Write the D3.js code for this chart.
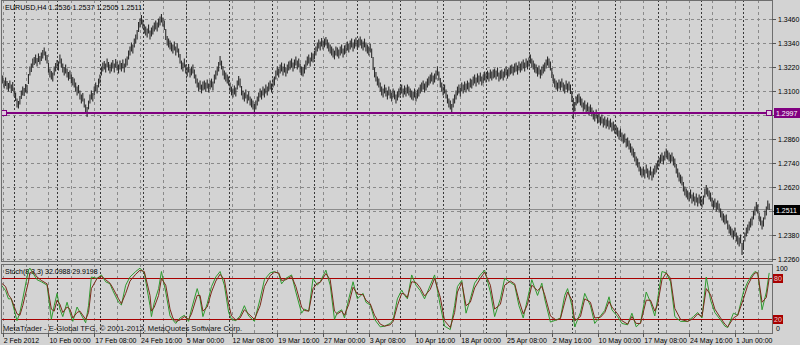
<!DOCTYPE html>
<html>
<head>
<meta charset="utf-8">
<script src="https://cdn.jsdelivr.net/npm/d3@7"></script>
<style>
body { margin: 0; background: #d3d3d3; }
svg text { font-family: "Liberation Sans", Arial, sans-serif; }
</style>
</head>
<body>
<div id="chart"></div>
<script>
const width = 800;
const height = 345;

// bar index 0 = 2 Feb 2012 00:00 (H4), first drawn bar is index 2
const firstBar = 2;
const lastBarIndex = 540;

// prices as points: price = 1 + pts / 10000
const highPts = [
    3170,3162,3178,3152,3168,3150, 3140,3152,3132,3145,3118, 3092,3062,3050,3075, 3102,3122,3115,3135,3130,
    3185,3222,3238,3262, 3270,3282,3265,3288,3275,3292,3305,3318,3298,3280, 3240,3212,3200,3192,
    3222,3240,3255,3248,3282,3262, 3238,3220,3232,3212,3195,3202,3182,3170,3162, 3142,3122,3130,3102,3082,3090,3062,3032,
    3020, 3052,3082,3102,3090,3122,3142,3130,3162,3182, 3222,3242,3250,3238,3262,3245,3232,
    3242,3255,3238,3260,3248,3232,3252,3240,3258,3238,3262,3272, 3302,3322,3342,3332,3362,3382,3405,
    3445,3462,3480,3458,3432, 3422,3412,3432,3402,3418,3428,3442, 3452,3442,3462,3472,3485,3468,3452,
    3410,3375,3362, 3352,3342,3332,3348,3322,3338,3312, 3285,3252,3242,3262, 3232,3218,3235,3212,3222,3232,3208,
    3182,3162,3142,3152,3132,3148,3152, 3142,3158,3138,3152,3162,3148, 3182,3202,3222,3245,3275,3252,
    3225,3202,3192,3182,3172, 3142,3122,3112,3128,3118, 3152,3175,3162, 3125,3102,3092,3108,3082,3098,
    3072,3062,3052,3035,3052,3072, 3092,3112,3102,3122,3112, 3132,3122,3142,3152,3138,3162,3172,
    3202,3222,3212,3232,3242,3222,3238,3218,3232,3248, 3252,3262,3242,3258,3272,3252,3262, 3238,3222,3218,3232,
    3252,3272,3282,3268,3292,3288,3302, 3322,3342,3358,3348,3365,3352,3362,3370,3358,3342,3332,
    3322,3312,3302,3322,3318,3308,3322,3332,3312,3328, 3332,3348,3338,3352,3362,3342,3358,3368,3352,3362,3372,3358,3348,3362,
    3342,3332,3322,3338,3312, 3270,3218,3195,3172,3162, 3142,3122,3112,3132,3118,3102,3122,
    3108,3092,3112,3102,3082,3098,3112, 3122,3132,3112,3128,3118,3132,3122, 3112,3102,3098,3112,3092,3108,3118,
    3132,3142,3152,3138,3148,3162,3172, 3182,3192,3178,3188,3202,3222,3198, 3165,3142,3122,3132,3108,3082,3062,
    3052,3035,3062,3082, 3102,3122,3132,3118,3142,3132,3148,3138,3152,3142,3162,
    3158,3172,3182,3168,3188,3178,3192,3172,3182,3198,3188,3202,3192,3208, 3198,3208,3212,3202,3218,3192,3202,
    3208,3198,3212,3222,3208,3218,3228, 3232,3222,3238,3242,3228,3248,3238,
    3248,3258,3242,3262,3252,3268,3282,3262,3252,3238, 3232,3218,3228,3208,3222,3232,3242, 3258,3272,3262,3248,
    3215,3182,3162,3152,3142,3158,3148,3162,3142,3132,3152,3138,3148,3132, 3100,3065, 3045,3072,3082,3088,3072,
    3062,3042,3052,3032,3042,3022,3032,3018,
    3002,2992,3008,2982,2988,2972,2982,2962,2972,2958,2968,2952,2962,2942,2948,2932,2928,
    2918,2902,2912,2892,2882,2888,2862,2868,2852,2838,2822, 2812,2795,2772,2762,2745,2722,2712,
    2722,2708,2732,2712,2702,2722,2698,2712,2728,2738, 2752,2768,2782,2792,2778,2798,2812,
    2802,2792,2782,2792,2772,2762, 2735,2712,2692,2682,2672,
    2645,2622,2612,2602,2592,2608,2582,2592,2572,2588,2568,2582,2572,2562,2578, 2612,2630,2618,2602,2592,
    2568,2552,2562,2542,2552,2538, 2512,2498,2488,2478,2482, 2452,2432,2422,2412,2402,2418,
    2392,2378,2368,2382,2340,2352, 2392,2418,2432,2448,2462,2472, 2502,2522,2545,2532, 2492,2472,2452,2468,
    2502,2522,2552,2537
];

const lowPts = [
    3128,3120,3138,3112,3125,3108, 3098,3112,3090,3100,3072, 3050,3018,3012,3032, 3060,3078,3075,3092,3088,
    3135,3178,3195,3218, 3230,3238,3222,3245,3232,3250,3262,3278,3252,3238, 3192,3168,3158,3148,
    3178,3198,3215,3202,3238,3218, 3192,3178,3188,3168,3152,3160,3138,3128,3118, 3098,3078,3088,3058,3038,3048,3018,2990,
    2970, 3008,3038,3058,3048,3078,3098,3088,3118,3138, 3178,3198,3208,3192,3218,3202,3188,
    3198,3212,3192,3218,3202,3188,3208,3198,3212,3192,3218,3228, 3258,3278,3298,3288,3318,3338,3358,
    3395,3418,3432,3412,3388, 3378,3368,3388,3358,3372,3382,3398, 3408,3398,3418,3428,3442,3422,3405,
    3355,3328,3318, 3308,3298,3288,3302,3278,3292,3268, 3238,3208,3198,3218, 3188,3172,3192,3168,3178,3188,3162,
    3138,3118,3098,3108,3088,3102,3108, 3098,3112,3092,3108,3118,3102, 3138,3158,3178,3198,3228,3208,
    3178,3158,3148,3138,3128, 3098,3078,3068,3082,3072, 3108,3128,3118, 3078,3058,3048,3062,3038,3052,
    3028,3018,3008,2985,3008,3028, 3048,3068,3058,3078,3068, 3088,3078,3098,3108,3092,3118,3128,
    3158,3178,3168,3188,3198,3178,3192,3172,3188,3202, 3208,3218,3198,3212,3228,3208,3218, 3192,3178,3172,3188,
    3208,3228,3238,3222,3248,3242,3258, 3278,3298,3312,3302,3322,3308,3318,3328,3312,3298,3288,
    3278,3268,3258,3278,3272,3262,3278,3288,3268,3282, 3288,3302,3292,3308,3318,3298,3312,3322,3308,3318,3328,3312,3302,3318,
    3298,3288,3278,3292,3265, 3205,3168,3148,3128,3118, 3098,3078,3068,3088,3072,3058,3078,
    3062,3048,3068,3058,3038,3052,3068, 3078,3088,3068,3082,3072,3088,3078, 3068,3058,3052,3068,3048,3062,3072,
    3088,3098,3108,3092,3102,3118,3128, 3138,3148,3132,3142,3158,3178,3152, 3118,3098,3078,3088,3062,3038,3018,
    3008,2990,3018,3038, 3058,3078,3088,3072,3098,3088,3102,3092,3108,3098,3118,
    3112,3128,3138,3122,3142,3132,3148,3128,3138,3152,3142,3158,3148,3162, 3152,3162,3168,3158,3172,3148,3158,
    3162,3152,3168,3178,3162,3172,3182, 3188,3178,3192,3198,3182,3202,3192,
    3202,3212,3198,3218,3208,3222,3238,3218,3208,3192, 3188,3172,3182,3162,3178,3188,3198, 3212,3228,3218,3202,
    3165,3138,3118,3108,3098,3112,3102,3118,3098,3088,3108,3092,3102,3085, 3045,2960, 2998,3028,3038,3042,3028,
    3018,2998,3008,2988,2998,2978,2988,2972,
    2958,2948,2962,2938,2942,2928,2938,2918,2928,2912,2922,2908,2918,2898,2902,2888,2882,
    2872,2858,2868,2848,2838,2842,2818,2822,2808,2792,2778, 2768,2748,2728,2718,2698,2678,2668,
    2678,2662,2688,2668,2658,2678,2652,2668,2682,2692, 2708,2722,2738,2748,2732,2752,2768,
    2758,2748,2738,2748,2728,2718, 2688,2668,2648,2638,2628,
    2598,2578,2568,2558,2548,2562,2538,2548,2528,2542,2522,2538,2528,2518,2532, 2568,2582,2572,2558,2548,
    2522,2508,2518,2498,2508,2492, 2468,2452,2442,2432,2438, 2408,2388,2378,2368,2358,2372,
    2348,2332,2322,2338,2280,2308, 2348,2372,2388,2402,2418,2428, 2458,2478,2498,2488, 2448,2428,2408,2422,
    2458,2478,2508,2505
];

// Stoch(8,3,3): bar index of each read point, main (%K) and signal (%D)
const stochBars = [
    2,6,8,10,14,16,18,22,23,25, 28,31,35,38,40,42,44,46,49,51,
    53,56,58,62,64,66,70,73,76,79, 81,85,87,90,93,97,100,103,107,108,
    110,113,115,118,121,123,125,128,131,134, 136,140,142,144,147,150,153,156,159,162,
    164,167,170,173,176,180,184,187,191,194, 197,199,202,206,209,213,215,218,221,224,
    226,230,233,236,238,241,243,246,249,252, 256,258,261,264,268,271,275,277,280,283,
    285,287,290,293,296,299,303,306,310,313, 317,320,322,325,328,331,334,338,341,345,
    348,352,355,359,362,365,368,371,374,378, 381,383,387,391,394,397,399,402,404,408,
    411,415,418,422,425,428,430,434,437,441, 444,447,450,454,457,460,462,465,468,471,
    474,478,483,487,490,493,496,499,502,506, 509,511,515,518,522,525,528,530,532,535,
    538,540
];
const stochMain = [
    73,62,50,50,18,30,50,92,95,88, 78,75,70,20,40,58,35,24,45,30,
    17,38,30,15,40,82,80,85,75,72, 62,45,41,70,82,90,95,88,40,24,
    45,65,90,60,25,19,14,22,26,17, 35,65,50,24,43,68,82,90,70,30,
    20,18,25,40,25,17,50,78,88,90, 87,72,80,85,60,29,35,32,80,70,
    75,92,70,20,30,34,22,50,75,50, 58,45,41,20,9,10,14,19,50,63,
    55,50,85,70,62,50,70,85,40,10, 5,40,68,77,29,50,73,85,92,60,
    24,50,80,74,70,40,22,50,78,55, 73,50,16,19,22,55,65,40,9,30,
    58,40,14,25,33,53,34,24,14,12, 29,9,15,60,45,25,50,90,88,75,
    24,17,17,24,30,22,82,48,30,19, 10,8,29,26,60,75,85,90,88,34,
    60,88
];
const stochSignal = [
    75,68,56,50,28,26,40,75,88,90, 82,77,72,35,32,48,42,30,38,35,
    22,30,32,20,30,65,80,83,78,73, 66,50,43,58,76,86,92,90,55,32,
    38,55,80,70,35,22,17,19,24,20, 28,55,55,32,38,60,76,86,78,42,
    25,19,22,34,28,20,40,68,84,89, 88,77,78,83,68,38,33,32,65,73,
    74,87,78,32,28,32,26,42,67,57, 56,48,43,26,13,10,12,17,40,58,
    57,52,75,74,66,54,64,80,52,18, 8,30,60,74,40,45,66,80,89,70,
    35,42,70,76,72,48,28,42,70,62, 68,56,25,19,21,45,60,48,18,24,
    50,45,22,23,30,46,38,28,18,13, 24,14,14,48,48,32,42,78,88,80,
    36,20,17,21,28,24,65,56,35,22, 13,9,22,26,50,70,82,88,88,45,
    52,80
];

const priceTicks = [1.3460, 1.3340, 1.3220, 1.3100, 1.2980, 1.2860, 1.2740, 1.2620, 1.2500, 1.2380, 1.2260];
const timeLabels = ["2 Feb 2012", "10 Feb 00:00", "17 Feb 08:00", "24 Feb 16:00", "5 Mar 00:00", "12 Mar 08:00",
    "19 Mar 16:00", "27 Mar 00:00", "3 Apr 08:00", "10 Apr 16:00", "18 Apr 00:00", "25 Apr 08:00",
    "2 May 16:00", "10 May 00:00", "17 May 08:00", "24 May 16:00", "1 Jun 00:00"];
const timeLabelBars = [4, 36, 68, 100, 132, 164, 196, 228, 260, 292, 324, 356, 388, 420, 452, 484, 516];
const stochLevels = [80, 20];

const hLinePrice = 1.2997;
const bidPrice = 1.2511;
const symbolTitle = "EURUSD,H4  1.2536 1.2537 1.2505 1.2511";
const stochTitle = "Stoch(8,3,3) 32.0988 29.9198";
const copyright = "MetaTrader - E-Global TFG, \u00a9 2001-2012, MetaQuotes Software Corp.";

const left = 1, right = 772;
const mainTop = 0, mainBottom = 261;
const oscTop = 264, oscBottom = 333;

const x = d3.scaleLinear().domain([0, lastBarIndex]).range([-3, 769.2]);
const y = d3.scaleLinear().domain([1.2260, 1.3460]).range([259, 19]);
const yOsc = d3.scaleLinear().domain([0, 100]).range([333, 264.7]);
const price = p => 1 + p / 10000;

const svg = d3.select("#chart")
    .append("svg")
    .attr("width", width)
    .attr("height", height);

svg.append("rect").attr("width", width).attr("height", height).attr("fill", "#d3d3d3");

const defs = svg.append("defs");
defs.append("clipPath").attr("id", "clipMain")
    .append("rect").attr("x", left + 1).attr("y", mainTop + 1)
    .attr("width", right - left - 1).attr("height", mainBottom - mainTop - 1);
defs.append("clipPath").attr("id", "clipOsc")
    .append("rect").attr("x", left + 1).attr("y", oscTop + 1)
    .attr("width", right - left - 1).attr("height", oscBottom - oscTop - 1);

// grid: verticals every 16 bars, weekly separators every 30 bars
const gridBars = d3.range(4, lastBarIndex + 1, 16);
const sepBars = d3.range(12, lastBarIndex + 1, 30);

[[mainTop, mainBottom], [oscTop, oscBottom]].forEach(([t, b]) => {
    svg.append("g").selectAll("line").data(gridBars).join("line")
        .attr("x1", d => Math.round(x(d)) + 0.5).attr("x2", d => Math.round(x(d)) + 0.5)
        .attr("y1", t).attr("y2", b)
        .attr("stroke", "#8a8a8a").attr("stroke-dasharray", "3,3");
    svg.append("g").selectAll("line").data(sepBars).join("line")
        .attr("x1", d => Math.round(x(d)) + 0.5).attr("x2", d => Math.round(x(d)) + 0.5)
        .attr("y1", t).attr("y2", b)
        .attr("stroke", "#383838").attr("stroke-dasharray", "2,2");
});

svg.append("g").selectAll("line").data(priceTicks).join("line")
    .attr("x1", left).attr("x2", right)
    .attr("y1", d => Math.round(y(d)) + 0.5).attr("y2", d => Math.round(y(d)) + 0.5)
    .attr("stroke", "#8a8a8a").attr("stroke-dasharray", "3,3");

// bid line
svg.append("line")
    .attr("x1", left).attr("x2", right)
    .attr("y1", Math.round(y(bidPrice)) + 0.5).attr("y2", Math.round(y(bidPrice)) + 0.5)
    .attr("stroke", "#8c8c8c");

// price bars
svg.append("g").attr("clip-path", "url(#clipMain)")
    .selectAll("line").data(highPts).join("line")
    .attr("x1", (d, i) => x(firstBar + i)).attr("x2", (d, i) => x(firstBar + i))
    .attr("y1", d => y(price(d)))
    .attr("y2", (d, i) => y(price(lowPts[i])))
    .attr("stroke", "#2b2b2b").attr("stroke-width", 1.1);

// horizontal line object
const hy = Math.round(y(hLinePrice)) + 1;
svg.append("line").attr("x1", left).attr("x2", right).attr("y1", hy).attr("y2", hy)
    .attr("stroke", "#800080").attr("stroke-width", 2);
[left + 3, right - 3].forEach(cx => {
    svg.append("rect").attr("x", cx - 2.5).attr("y", hy - 2.5).attr("width", 5).attr("height", 5)
        .attr("fill", "#e0c8e0").attr("stroke", "#800080");
});

svg.append("text").attr("x", 5).attr("y", 10)
    .attr("font-size", 7.2).attr("fill", "#000").text(symbolTitle);

// stochastic pane
svg.append("g").selectAll("line").data(stochLevels).join("line")
    .attr("x1", left).attr("x2", right)
    .attr("y1", d => Math.round(yOsc(d)) + 0.5).attr("y2", d => Math.round(yOsc(d)) + 0.5)
    .attr("stroke", "#a80000");

svg.append("text").attr("x", 3).attr("y", 330.5)
    .attr("font-size", 7.6).attr("fill", "#111").text(copyright);
svg.append("text").attr("x", 5).attr("y", 273.5)
    .attr("font-size", 7).attr("fill", "#000").text(stochTitle);

const mainLine = d3.line().x(d => x(d[0])).y(d => yOsc(d[1]));
const oscG = svg.append("g").attr("clip-path", "url(#clipOsc)");
oscG.append("path").datum(stochBars.map((b, i) => [b, stochMain[i]]))
    .attr("d", mainLine).attr("fill", "none").attr("stroke", "#2f9a2f").attr("stroke-width", 1);
oscG.append("path").datum(stochBars.map((b, i) => [b, stochSignal[i]]))
    .attr("d", mainLine).attr("fill", "none").attr("stroke", "#7a2a1a").attr("stroke-width", 1);

// frames
[[mainTop, mainBottom], [oscTop, oscBottom]].forEach(([t, b]) => {
    svg.append("rect").attr("x", left + 0.5).attr("y", t + 0.5)
        .attr("width", right - left).attr("height", b - t)
        .attr("fill", "none").attr("stroke", "#6e6e6e");
});

// price axis; labels covered by the price boxes are left out as in the reference
const coveredTicks = [1.2500, 1.2980];
const axisG = svg.append("g");
axisG.selectAll("line").data(priceTicks).join("line")
    .attr("x1", right).attr("x2", right + 4)
    .attr("y1", d => Math.round(y(d)) + 0.5).attr("y2", d => Math.round(y(d)) + 0.5)
    .attr("stroke", "#555");
axisG.selectAll("text").data(priceTicks.filter(d => !coveredTicks.includes(d))).join("text")
    .attr("x", right + 6).attr("y", d => y(d) + 2.5)
    .attr("font-size", 7).attr("fill", "#000")
    .text(d => d.toFixed(4));

function priceBox(p, fill, label) {
    const cy = Math.round(y(p)) + 1;
    svg.append("rect").attr("x", right + 2).attr("y", cy - 5).attr("width", 27).attr("height", 10).attr("fill", fill);
    svg.append("text").attr("x", right + 4).attr("y", cy + 2.5)
        .attr("font-size", 7).attr("fill", "#fff").text(label);
}
priceBox(hLinePrice, "#800080", hLinePrice.toFixed(4));
priceBox(bidPrice, "#000", bidPrice.toFixed(4));

// stochastic axis
svg.append("text").attr("x", right + 4).attr("y", yOsc(100) + 6.5)
    .attr("font-size", 7).attr("fill", "#000").text("100");
svg.append("text").attr("x", right + 4).attr("y", oscBottom - 2)
    .attr("font-size", 7).attr("fill", "#000").text("0");
stochLevels.forEach(v => {
    const cy = Math.round(yOsc(v)) + 0.5;
    svg.append("rect").attr("x", right + 1).attr("y", cy - 4.5).attr("width", 10).attr("height", 9).attr("fill", "#a80000");
    svg.append("text").attr("x", right + 2).attr("y", cy + 2.5)
        .attr("font-size", 7).attr("fill", "#e8d0d0").text(v);
});

// time axis
const timeG = svg.append("g");
timeG.selectAll("line").data(timeLabelBars).join("line")
    .attr("x1", d => Math.round(x(d)) + 0.5).attr("x2", d => Math.round(x(d)) + 0.5)
    .attr("y1", oscBottom).attr("y2", oscBottom + 4)
    .attr("stroke", "#555");
timeG.selectAll("text").data(timeLabels).join("text")
    .attr("x", (d, i) => Math.max(2, x(timeLabelBars[i]) + 1))
    .attr("y", 343)
    .attr("font-size", 7).attr("fill", "#000")
    .text(d => d);
</script>
</body>
</html>
